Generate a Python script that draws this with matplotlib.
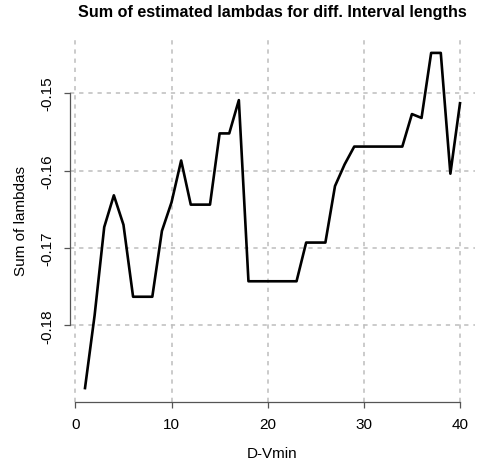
import matplotlib
matplotlib.use('Agg')
import matplotlib.pyplot as plt
import numpy as np

plt.rcParams['font.family'] = ['Liberation Sans', 'DejaVu Sans']

# interval lengths and summed lambdas
d_vmin = list(range(1, 41))
sum_lambdas = [
    -0.1881, -0.1787, -0.1673, -0.1632, -0.1670, -0.1763, -0.1763, -0.1763,
    -0.1678, -0.1641, -0.1587, -0.1644, -0.1644, -0.1644, -0.1552, -0.1552,
    -0.1509, -0.1743, -0.1743, -0.1743, -0.1743, -0.1743, -0.1743, -0.1693,
    -0.1693, -0.1693, -0.1620, -0.1592, -0.1569, -0.1569, -0.1569, -0.1569,
    -0.1569, -0.1569, -0.1527, -0.1532, -0.1448, -0.1448, -0.1604, -0.1513,
]
x_ticks = [0, 10, 20, 30, 40]
y_ticks = [-0.18, -0.17, -0.16, -0.15]

fig = plt.figure(figsize=(4.8, 4.64), dpi=100)
ax = fig.add_axes([70 / 480, 1 - 402.5 / 464, 405 / 480, 362 / 464])

# R style 4% padding
x = np.array(d_vmin)
y = np.array(sum_lambdas)
xpad = (x.max() - x.min()) * 0.04
ypad = (y.max() - y.min()) * 0.04
ax.set_xlim(x.min() - xpad, x.max() + xpad)
ax.set_ylim(y.min() - ypad, y.max() + ypad)

# grid
for t in x_ticks:
    ax.axvline(t, color='#bdbdbd', lw=1.1, ls=(0, (2.8, 3.2)), zorder=1)
for t in y_ticks:
    ax.axhline(t, color='#bdbdbd', lw=1.1, ls=(0, (2.8, 3.2)), zorder=1)

ax.plot(x, y, color='black', lw=1.9, zorder=3)

for s in ['top', 'right']:
    ax.spines[s].set_visible(False)
ax.spines['left'].set_bounds(y_ticks[0], y_ticks[-1])
ax.spines['bottom'].set_bounds(x_ticks[0], x_ticks[-1])
for s in ['left', 'bottom']:
    ax.spines[s].set_color('#555555')
    ax.spines[s].set_linewidth(0.9)

ax.set_xticks(x_ticks)
ax.set_xticklabels([str(t) for t in x_ticks])
ax.set_yticks(y_ticks)
ax.set_yticklabels(['-0.18', '-0.17', '-0.16', '-0.15'], rotation=90, va='center')
ax.tick_params(direction='out', length=4, width=0.9, color='#555555',
               labelsize=11, pad=7)

ax.set_xlabel('D-Vmin', fontsize=11, labelpad=11)
ax.set_ylabel('Sum of lambdas', fontsize=11, labelpad=9)
ax.set_title('Sum of estimated lambdas for diff. Interval lengths',
             fontsize=11.6, fontweight='bold', pad=17)

fig.savefig('out.png', dpi=100)
